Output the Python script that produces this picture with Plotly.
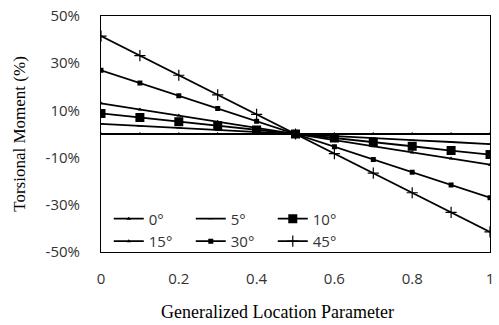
import plotly.graph_objects as go

# Generalized location parameter along the member
x_pos = [0, 0.1, 0.2, 0.3, 0.4, 0.5, 0.6, 0.7, 0.8, 0.9, 1.0]

# Torsional moment (%) for each skew angle
tm_0 = [0, 0, 0, 0, 0, 0, 0, 0, 0, 0, 0]
tm_5 = [4.3, 3.4, 2.6, 1.7, 0.9, 0, -0.9, -1.7, -2.6, -3.4, -4.3]
tm_10 = [8.7, 7.0, 5.2, 3.5, 1.7, 0, -1.7, -3.5, -5.2, -7.0, -8.7]
tm_15 = [13.0, 10.4, 7.8, 5.2, 2.6, 0, -2.6, -5.2, -7.8, -10.4, -13.0]
tm_30 = [27.0, 21.6, 16.2, 10.8, 5.4, 0, -5.4, -10.8, -16.2, -21.6, -27.0]
tm_45 = [41.5, 33.2, 24.9, 16.6, 8.3, 0, -8.3, -16.6, -24.9, -33.2, -41.5]

y_ticks = [-50, -30, -10, 10, 30, 50]
y_tick_text = ["-50%", "-30%", "-10%", "10%", "30%", "50%"]
x_ticks = [0, 0.2, 0.4, 0.6, 0.8, 1]
x_tick_text = ["0", "0.2", "0.4", "0.6", "0.8", "1"]

series = [
    ("0°", tm_0, dict(symbol="triangle-up", size=4), "legend"),
    ("5°", tm_5, dict(symbol="line-ew", size=4, line=dict(width=1, color="black")), "legend"),
    ("10°", tm_10, dict(symbol="square", size=9), "legend"),
    ("15°", tm_15, dict(symbol="triangle-up", size=4), "legend2"),
    ("30°", tm_30, dict(symbol="square", size=5), "legend2"),
    ("45°", tm_45, dict(symbol="cross-thin", size=8, line=dict(width=1.2, color="black")), "legend2"),
]

fig = go.Figure()
for name, vals, mk, lg in series:
    fig.add_trace(go.Scatter(
        x=x_pos, y=vals, name=name, mode="lines+markers",
        line=dict(color="black", width=1.8),
        marker=dict(color="black", **mk),
        legend=lg,
    ))

sans = "Open Sans, Noto Sans, sans-serif"
serif = "Liberation Serif, Times New Roman, serif"
tick_color = "#333"

legend_common = dict(
    orientation="h", xref="paper", yref="paper",
    xanchor="left", yanchor="middle",
    bgcolor="rgba(0,0,0,0)", borderwidth=0,
    font=dict(family=sans, size=15, color=tick_color),
    entrywidth=37, entrywidthmode="pixels",
    itemwidth=30, tracegroupgap=0,
)

fig.update_layout(
    width=499, height=325,
    margin=dict(l=101, r=5, t=13, b=73),
    plot_bgcolor="white", paper_bgcolor="white",
    showlegend=True,
    legend=dict(x=0.02, y=0.14, **legend_common),
    legend2=dict(x=0.02, y=0.045, **legend_common),
    xaxis=dict(
        range=[0, 1], tickvals=x_ticks, ticktext=x_tick_text,
        showgrid=False, zeroline=False,
        showline=True, linecolor="black", linewidth=1, mirror=True,
        ticks="", ticklabelstandoff=13,
        tickfont=dict(family=sans, size=15, color=tick_color),
    ),
    yaxis=dict(
        range=[-50, 50], tickvals=y_ticks, ticktext=y_tick_text,
        showgrid=False, zeroline=False,
        showline=True, linecolor="black", linewidth=1, mirror=True,
        ticks="", ticklabelstandoff=17,
        tickfont=dict(family=sans, size=15, color=tick_color),
        title=dict(text="Torsional Moment (%)",
                   font=dict(family=serif, size=17, color="black"), standoff=15),
    ),
    annotations=[dict(
        text="Generalized Location Parameter",
        xref="paper", yref="paper", x=0.453, y=-0.255,
        xanchor="center", yanchor="middle", showarrow=False,
        font=dict(family=serif, size=18, color="black"),
    )],
)

fig.write_html("out.html")
